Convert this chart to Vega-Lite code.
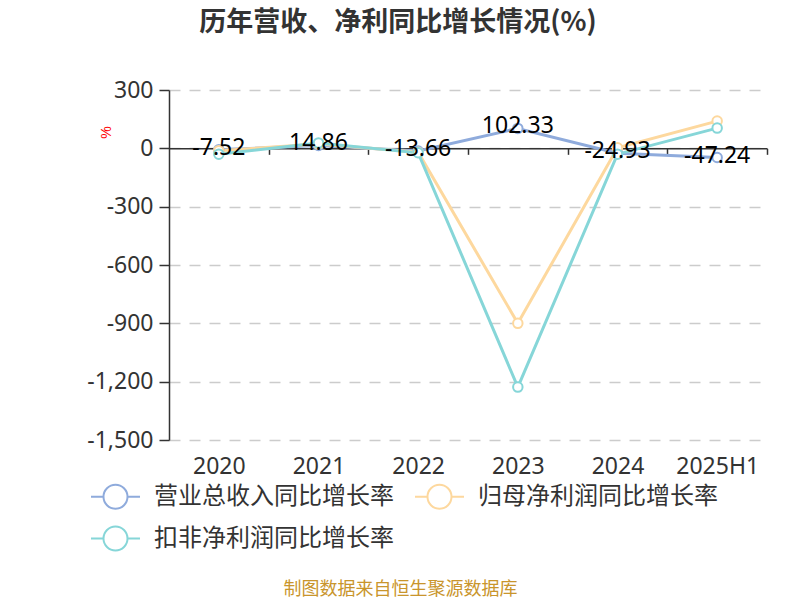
{
  "$schema": "https://vega.github.io/schema/vega-lite/v6.json",
  "width": 598, "height": 350,
  "autosize": "none",
  "padding": {"left": 169, "top": 90, "right": 33, "bottom": 160},
  "background": "white",
  "title": {
    "text": "历年营收、净利同比增长情况(%)",
    "font": "Noto Sans CJK SC", "fontSize": 27, "fontWeight": "bold", "color": "#333333",
    "anchor": "middle", "dx": -70, "offset": 42
  },
  "data": {"values": [
    {"year": "2020", "series": "营业总收入同比增长率", "value": -7.52},
    {"year": "2021", "series": "营业总收入同比增长率", "value": 14.86},
    {"year": "2022", "series": "营业总收入同比增长率", "value": -13.66},
    {"year": "2023", "series": "营业总收入同比增长率", "value": 102.33},
    {"year": "2024", "series": "营业总收入同比增长率", "value": -24.93},
    {"year": "2025H1", "series": "营业总收入同比增长率", "value": -47.24},
    {"year": "2020", "series": "归母净利润同比增长率", "value": -12},
    {"year": "2021", "series": "归母净利润同比增长率", "value": 22},
    {"year": "2022", "series": "归母净利润同比增长率", "value": -20},
    {"year": "2023", "series": "归母净利润同比增长率", "value": -900},
    {"year": "2024", "series": "归母净利润同比增长率", "value": 3},
    {"year": "2025H1", "series": "归母净利润同比增长率", "value": 140},
    {"year": "2020", "series": "扣非净利润同比增长率", "value": -30},
    {"year": "2021", "series": "扣非净利润同比增长率", "value": 28},
    {"year": "2022", "series": "扣非净利润同比增长率", "value": -23},
    {"year": "2023", "series": "扣非净利润同比增长率", "value": -1228},
    {"year": "2024", "series": "扣非净利润同比增长率", "value": -30},
    {"year": "2025H1", "series": "扣非净利润同比增长率", "value": 104}
  ]},
  "resolve": {"axis": {"x": "independent"}},
  "layer": [
    {
      "mark": {"type": "line", "strokeWidth": 3,
        "point": {"filled": false, "fill": "white", "size": 90, "strokeWidth": 2}},
      "encoding": {
        "x": {
          "field": "year", "type": "nominal", "sort": null,
          "scale": {"type": "point", "padding": 0.5},
          "axis": {
            "orient": "bottom", "domain": false, "ticks": false, "grid": false,
            "labelAngle": 0, "labelFont": "Noto Sans", "labelFontSize": 23, "labelColor": "#333333",
            "labelPadding": 15,
            "title": "制图数据来自恒生聚源数据库",
            "titleFont": "Noto Sans CJK SC", "titleFontSize": 18, "titleFontWeight": "normal",
            "titleColor": "#c9952c", "titleX": 231, "titleY": 149, "titleBaseline": "middle", "titleAlign": "center"
          }
        },
        "y": {
          "field": "value", "type": "quantitative",
          "scale": {"domain": [-1500, 300], "nice": false},
          "axis": {
            "values": [-1500, -1200, -900, -600, -300, 0, 300],
            "format": ",.0f",
            "domain": true, "domainColor": "#333333", "domainWidth": 1.5,
            "ticks": true, "tickColor": "#333333", "tickSize": 10, "tickWidth": 1.5,
            "labelFont": "Noto Sans", "labelFontSize": 23, "labelColor": "#333333", "labelPadding": 6,
            "grid": true, "gridColor": "#cccccc", "gridDash": [11, 9], "gridWidth": 1.5,
            "title": "%", "titleColor": "red", "titleFontSize": 14, "titleFontWeight": "normal",
            "titleX": -63, "titleY": 42, "titleAngle": -90, "titleBaseline": "middle"
          }
        },
        "color": {
          "field": "series", "type": "nominal",
          "scale": {
            "domain": ["营业总收入同比增长率", "归母净利润同比增长率", "扣非净利润同比增长率"],
            "range": ["#8fabdc", "#fdd89e", "#86d6d8"]
          },
          "legend": {
            "orient": "none", "legendX": -79, "legendY": 381, "columns": 2, "direction": "horizontal", "title": null,
            "symbolType": "M-1,0L-0.49,0M0.49,0L1,0M0.49,0A0.49,0.49,0,1,1,-0.49,0A0.49,0.49,0,1,1,0.49,0Z",
            "symbolSize": 2401, "symbolStrokeWidth": 2, "symbolFillColor": "transparent",
            "labelFont": "Noto Sans CJK SC", "labelFontSize": 24, "labelColor": "#333333",
            "labelOffset": 13, "columnPadding": 17, "rowPadding": -4, "labelLimit": 400
          }
        }
      }
    },
    {
      "transform": [{"filter": "datum.series === '营业总收入同比增长率'"}],
      "mark": {"type": "text", "font": "Noto Sans", "fontSize": 23, "color": "black", "baseline": "middle", "dy": -2},
      "encoding": {
        "x": {
          "field": "year", "type": "nominal", "sort": null,
          "axis": {
            "orient": "top", "offset": -58.33, "labels": false, "grid": false, "title": null,
            "domain": true, "domainColor": "#333333", "domainWidth": 1.5,
            "ticks": true, "tickColor": "#333333", "tickSize": -6, "tickWidth": 1.5, "tickOffset": 49.83
          }
        },
        "y": {"field": "value", "type": "quantitative"},
        "text": {"field": "value", "type": "quantitative", "format": ".2f"}
      }
    }
  ],
  "config": {
    "view": {"stroke": null},
    "locale": {"number": {"decimal": ".", "thousands": ",", "grouping": [3], "currency": ["", ""], "minus": "-"}}
  }
}
